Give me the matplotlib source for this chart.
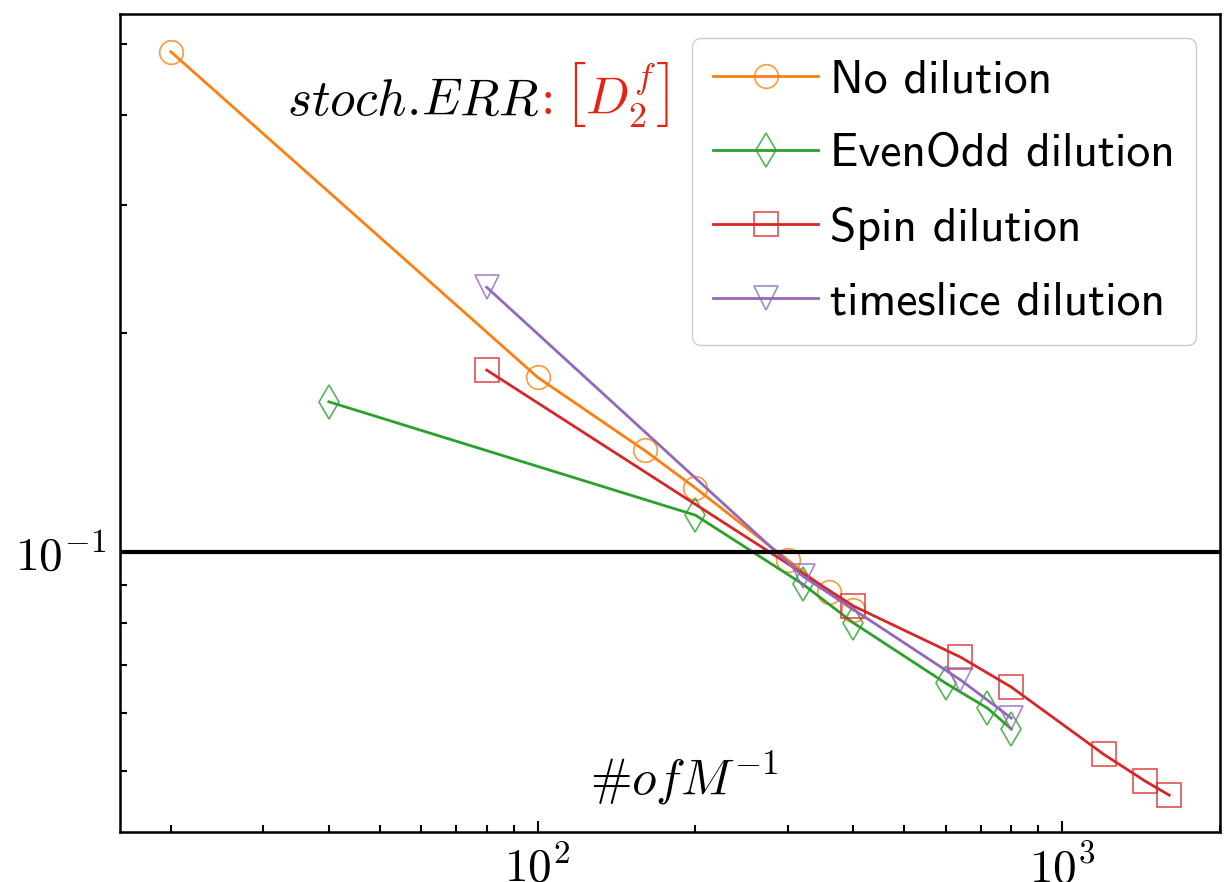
import math
import matplotlib
matplotlib.use("Agg")
import matplotlib.pyplot as plt
from matplotlib.ticker import FuncFormatter, NullFormatter, LogLocator
from matplotlib.colors import to_rgba

plt.rcParams['mathtext.fontset'] = 'cm'

# data (number of inversions vs stochastic error)
x_nodil = [20, 100, 160, 200, 300, 360, 400]
y_nodil = [0.488, 0.174, 0.138, 0.1225, 0.0975, 0.0881, 0.0832]

x_evenodd = [40, 200, 320, 400, 600, 720, 800]
y_evenodd = [0.161, 0.1124, 0.0904, 0.0799, 0.0660, 0.0610, 0.0571]

x_spin = [80, 400, 640, 800, 1200, 1440, 1600]
y_spin = [0.178, 0.0843, 0.0717, 0.0652, 0.0527, 0.0484, 0.0463]

x_time = [80, 320, 640, 800]
y_time = [0.2314, 0.0927, 0.0667, 0.0591]

labels = ['No dilution', 'EvenOdd dilution', 'Spin dilution', 'timeslice dilution']
ref_level = 0.1

fig = plt.figure(figsize=(12.25, 8.82), dpi=100)
ax = fig.add_axes([0.098, 0.0567, 0.898, 0.9274])


def draw(x, y, color, marker, label):
    ax.plot(x, y, color=color, lw=2, marker=marker, ms=17, mew=1.2,
            mfc='none', mec=to_rgba(color, 0.8), label=label)


draw(x_nodil, y_nodil, '#ff7f0e', 'o', labels[0])
draw(x_evenodd, y_evenodd, '#2ca02c', 'd', labels[1])
draw(x_spin, y_spin, '#d62728', 's', labels[2])
draw(x_time, y_time, '#9467bd', 'v', labels[3])

ax.axhline(ref_level, color='black', lw=3)

ax.set_xscale('log')
ax.set_yscale('log')
ax.set_xlim(16, 2000)
ax.set_ylim(0.0412, 0.55)

fmt = FuncFormatter(lambda v, p: r'$10^{%d}$' % round(math.log10(v)))
ax.xaxis.set_major_formatter(fmt)
ax.yaxis.set_major_formatter(fmt)
ax.xaxis.set_minor_formatter(NullFormatter())
ax.yaxis.set_minor_formatter(NullFormatter())
ax.yaxis.set_minor_locator(LogLocator(base=10, subs=range(2, 10)))

ax.tick_params(which='both', direction='in', top=False, right=False,
               labelsize=34, width=1.5)
ax.tick_params(which='major', length=8, pad=10)
ax.tick_params(which='minor', length=5)
for s in ax.spines.values():
    s.set_linewidth(1.8)

ax.text(0.152, 0.877, r'$stoch.\!ERR$', transform=ax.transAxes, fontsize=37,
        color='black', va='baseline')
ax.text(0.374, 0.877, r'$:\left[D^f_2\right]$', transform=ax.transAxes,
        fontsize=37, color='#e8210f', va='baseline')
ax.text(0.427, 0.046, r'$\# of M^{-1}$', transform=ax.transAxes, fontsize=36,
        va='baseline')

ax.legend(loc='upper right', prop={'family': 'cmss10', 'size': 34.3},
          handlelength=2.2, handletextpad=0.25, labelspacing=0.66,
          borderpad=0.45, edgecolor='0.8', framealpha=1)

fig.savefig('out.png', dpi=100)
